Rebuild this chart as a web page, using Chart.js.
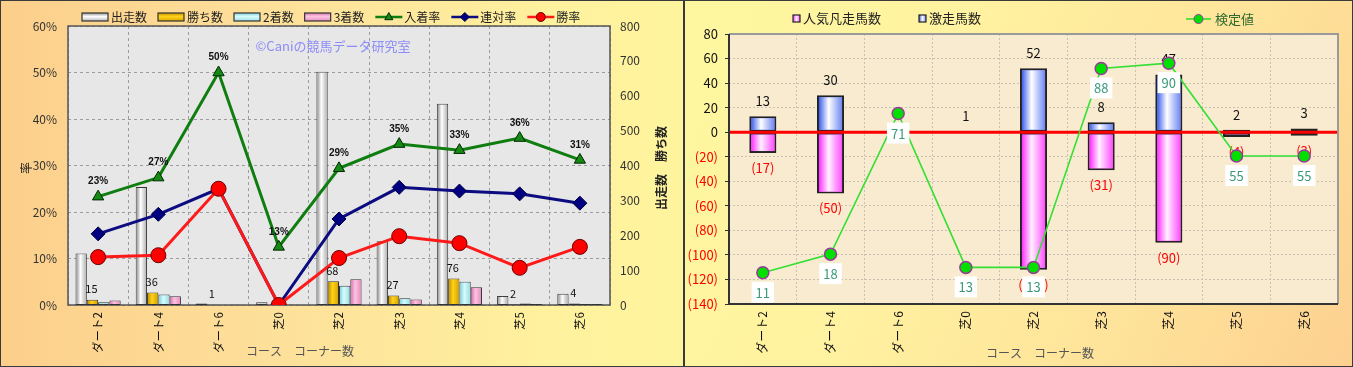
<!DOCTYPE html>
<html><head><meta charset="utf-8">
<script src="https://cdn.jsdelivr.net/npm/chart.js@4"></script>
<style>
html,body{margin:0;padding:0;width:1353px;height:367px;overflow:hidden;background:#fff;}
#pl{position:absolute;left:0;top:0;width:684px;height:367px;box-sizing:border-box;border:1px solid #3a3a3a;background:linear-gradient(90deg,#fccf8b 0%,#fde09a 40%,#fff19e 80%,#fff49e 100%);}
#pr{position:absolute;left:683px;top:0;width:670px;height:367px;box-sizing:border-box;border:1px solid #3a3a3a;border-left:2px solid #3a3a3a;background:linear-gradient(115deg,#fff7a0 0%,#fff2a0 35%,#fee39a 70%,#fdd090 100%);}
canvas{position:absolute;top:0;}
#cl{left:0}
#cr{left:683px}
</style></head>
<body>
<div id="pl"></div><div id="pr"></div>
<canvas id="cl" width="683" height="367"></canvas>
<canvas id="cr" width="670" height="367"></canvas>
<script>
Chart.defaults.font.family = '"Noto Sans CJK JP","Noto Sans",sans-serif';
Chart.defaults.animation = false;

// ---------- data ----------
const categories = ['ダート2','ダート4','ダート6','芝0','芝2','芝3','芝4','芝5','芝6'];

// left chart
const leftSeriesNames = ['出走数','勝ち数','2着数','3着数','入着率','連対率','勝率'];
const runCounts    = [148, 338, 4, 8, 669, 183, 577, 26, 32];
const winCounts    = [15, 36, 1, 0, 68, 27, 76, 2, 4];
const secondCounts = [8, 30, 0, 0, 55, 19, 67, 4, 3];
const thirdCounts  = [13, 25, 1, 1, 74, 16, 51, 3, 3];
const placeRates    = [23.3, 27.4, 50.0, 12.5, 29.4, 34.6, 33.3, 35.9, 31.2];
const quinellaRates = [15.3, 19.5, 25.0, 0.0, 18.5, 25.3, 24.5, 23.9, 21.9];
const winRates      = [10.3, 10.7, 25.0, 0.0, 10.1, 14.8, 13.3, 8.0, 12.5];
const leftAxisTitle = '率';
const rightAxisTitle = '出走数　勝ち数';
const xAxisTitle = 'コース　コーナー数';
const watermark = '©Caniの競馬データ研究室';

// right chart
const rightSeriesNames = ['人気凡走馬数','激走馬数','検定値'];
const hotFlopCounts  = [-17, -50, 0, 0, -112, -31, -90, -4, -3];
const longshotCounts = [13, 30, 0, 1, 52, 8, 47, 2, 3];
const testValues     = [11, 18, 71, 13, 13, 88, 90, 55, 55];

// ---------- helpers ----------
function cylinder(ctx, el, stops, bw){
  const p = el.getProps(['x','y','base','width'], true);
  const l = p.x - p.width/2 + bw, r = p.x + p.width/2 - bw;
  const t = Math.min(p.y,p.base) + bw, b = Math.max(p.y,p.base) - bw;
  if (b - t < 0.8 || r - l < 1) return;
  const g = ctx.createLinearGradient(l,0,r,0);
  g.addColorStop(0, stops[0]); g.addColorStop(0.42, stops[1]); g.addColorStop(1, stops[2]);
  ctx.fillStyle = g; ctx.fillRect(l,t,r-l,b-t);
}
function marker(ctx, style, x, y, r, fill, stroke){
  ctx.save(); ctx.fillStyle = fill; ctx.strokeStyle = stroke; ctx.lineWidth = 1;
  ctx.beginPath();
  if (style === 'triangle'){ ctx.moveTo(x, y-r); ctx.lineTo(x+r*0.9, y+r*0.6); ctx.lineTo(x-r*0.9, y+r*0.6); ctx.closePath(); }
  else if (style === 'rectRot'){ ctx.moveTo(x, y-r); ctx.lineTo(x+r, y); ctx.lineTo(x, y+r); ctx.lineTo(x-r, y); ctx.closePath(); }
  else { ctx.arc(x, y, r, 0, Math.PI*2); }
  ctx.fill(); ctx.stroke(); ctx.restore();
}
function rotText(ctx, text, x, y, font, color){
  ctx.save(); ctx.translate(x,y); ctx.rotate(-Math.PI/2);
  ctx.font = font; ctx.fillStyle = color; ctx.textAlign='center'; ctx.textBaseline='middle';
  ctx.fillText(text,0,0); ctx.restore();
}

// ---------- left chart ----------
const leftPlugin = {
  id:'leftExtras',
  beforeDraw(chart){
    const {ctx, chartArea:a} = chart;
    ctx.save(); ctx.fillStyle = '#e7e7e7'; ctx.fillRect(a.left,a.top,a.right-a.left,a.bottom-a.top); ctx.restore();
  },
  beforeDatasetsDraw(chart){
    const {ctx, chartArea:a} = chart;
    ctx.save();
    ctx.strokeStyle = '#555'; ctx.lineWidth = 1.5; ctx.strokeRect(a.left,a.top,a.right-a.left,a.bottom-a.top);
    ctx.font = '13px "Noto Sans CJK JP"'; ctx.fillStyle = '#8c8cf8'; ctx.textAlign='center'; ctx.textBaseline='middle';
    ctx.fillText(watermark, 333, 46);
    ctx.restore();
  },
  afterDatasetDraw(chart, args){
    const ds = chart.data.datasets[args.index];
    if (ds.type !== 'bar') return;
    const ctx = chart.ctx; ctx.save();
    args.meta.data.forEach(el => cylinder(ctx, el, ds.grad, 1));
    ctx.restore();
  },
  afterDraw(chart){
    const ctx = chart.ctx; ctx.save();
    // win count labels
    const wm = chart.getDatasetMeta(1);
    ctx.font = '11px "Noto Sans CJK JP"'; ctx.fillStyle = '#111'; ctx.textAlign='center'; ctx.textBaseline='bottom';
    wm.data.forEach((el,i) => { const v = chart.data.datasets[1].data[i]; if (v) ctx.fillText(String(v), el.x-1, el.y-5); });
    // place rate labels
    const pm = chart.getDatasetMeta(4);
    ctx.font = 'bold 10px "Liberation Sans"'; ctx.textBaseline='middle';
    pm.data.forEach((el,i) => ctx.fillText(Math.round(chart.data.datasets[4].data[i])+'%', el.x, el.y-15));
    // legend
    let x = 82; const y = 17;
    ctx.font = '12px "Noto Sans CJK JP"'; ctx.textAlign='left'; ctx.textBaseline='middle';
    chart.data.datasets.forEach(ds => {
      if (ds.type === 'bar'){
        const g = ctx.createLinearGradient(0,y-4,0,y+4);
        g.addColorStop(0, ds.grad[0]); g.addColorStop(0.45, ds.grad[1]); g.addColorStop(1, ds.grad[2]);
        ctx.fillStyle = g; ctx.fillRect(x, y-4, 26, 8);
        ctx.strokeStyle = '#333'; ctx.lineWidth = 1.2; ctx.strokeRect(x, y-4, 26, 8);
      } else {
        ctx.strokeStyle = ds.borderColor; ctx.lineWidth = 2.5;
        ctx.beginPath(); ctx.moveTo(x, y); ctx.lineTo(x+27, y); ctx.stroke();
        marker(ctx, ds.pointStyle, x+13.5, y, 4.5, ds.pointBackgroundColor, ds.pointBorderColor);
      }
      x += 29;
      ctx.fillStyle = '#222'; ctx.fillText(ds.label, x, y);
      x += ctx.measureText(ds.label).width + 11;
    });
    // axis titles
    rotText(ctx, leftAxisTitle, 26, 168, '12px "Noto Sans CJK JP"', '#222');
    rotText(ctx, rightAxisTitle, 661, 168, 'bold 12px "Noto Sans CJK JP"', '#222');
    ctx.font = '12px "Noto Sans CJK JP"'; ctx.fillStyle = '#555'; ctx.textAlign='center';
    ctx.fillText(xAxisTitle, 300, 351);
    ctx.restore();
  }
};

new Chart(document.getElementById('cl'), {
  data: {
    labels: categories,
    datasets: [
      {type:'bar', label:leftSeriesNames[0], data:runCounts, yAxisID:'y1', backgroundColor:'#d8d8d8', borderColor:'#333', borderWidth:1, borderSkipped:false, grad:['#9a9a9a','#ffffff','#b8b8b8'], order:3, categoryPercentage:0.75, barPercentage:1},
      {type:'bar', label:leftSeriesNames[1], data:winCounts, yAxisID:'y1', backgroundColor:'#f0c000', borderColor:'#333', borderWidth:1, borderSkipped:false, grad:['#c89600','#ffd21a','#d9a800'], order:3, categoryPercentage:0.75, barPercentage:1},
      {type:'bar', label:leftSeriesNames[2], data:secondCounts, yAxisID:'y1', backgroundColor:'#b0ecf2', borderColor:'#333', borderWidth:1, borderSkipped:false, grad:['#88d4dc','#d8fbfd','#9ee0e8'], order:3, categoryPercentage:0.75, barPercentage:1},
      {type:'bar', label:leftSeriesNames[3], data:thirdCounts, yAxisID:'y1', backgroundColor:'#f0a0cc', borderColor:'#333', borderWidth:1, borderSkipped:false, grad:['#e07ab4','#fcc4e2','#e890c0'], order:3, categoryPercentage:0.75, barPercentage:1},
      {type:'line', label:leftSeriesNames[4], data:placeRates, yAxisID:'y', borderColor:'#0f7d0f', borderWidth:3, tension:0, pointStyle:'triangle', pointRadius:6.5, pointBackgroundColor:'#148a14', pointBorderColor:'#002800', pointBorderWidth:1, order:2},
      {type:'line', label:leftSeriesNames[5], data:quinellaRates, yAxisID:'y', borderColor:'#0c0c80', borderWidth:3, tension:0, pointStyle:'rectRot', pointRadius:7, pointBackgroundColor:'#000080', pointBorderColor:'#000040', pointBorderWidth:1, order:1},
      {type:'line', label:leftSeriesNames[6], data:winRates, yAxisID:'y', borderColor:'#ff1a1a', borderWidth:3, tension:0, pointStyle:'circle', pointRadius:7.5, pointBackgroundColor:'#ff0000', pointBorderColor:'#6a0000', pointBorderWidth:1, order:0}
    ]
  },
  options: {
    responsive:false, animation:false,
    layout:{padding:{top:26,left:0,right:0,bottom:0}},
    plugins:{legend:{display:false}, tooltip:{enabled:false}},
    scales:{
      x:{offset:true, afterFit:s=>{s.height=62;},
         grid:{offset:true, color:'#9c9c9c', drawTicks:false}, border:{display:false, dash:[3,3]},
         ticks:{autoSkip:false, minRotation:90, maxRotation:90, padding:7, color:'#111', font:{size:11.5}}},
      y:{position:'left', min:0, max:60, afterFit:s=>{s.width=68;},
         ticks:{stepSize:10, callback:v=>v+'%', padding:11, color:'#333', font:{size:12}},
         grid:{color:'#9c9c9c', drawTicks:false}, border:{display:false, dash:[3,3]}},
      y1:{position:'right', min:0, max:800, afterFit:s=>{s.width=73;},
         ticks:{stepSize:100, padding:10, color:'#333', font:{size:12}},
         grid:{display:false, drawTicks:false}, border:{display:false}}
    }
  },
  plugins:[leftPlugin]
});

// ---------- right chart ----------
const rightPlugin = {
  id:'rightExtras',
  beforeDraw(chart){
    const {ctx, chartArea:a} = chart;
    ctx.save(); ctx.fillStyle = '#f8ebcf'; ctx.fillRect(a.left,a.top,a.right-a.left,a.bottom-a.top); ctx.restore();
  },
  afterDatasetDraw(chart, args){
    const ds = chart.data.datasets[args.index];
    if (ds.type !== 'bar') return;
    const ctx = chart.ctx; ctx.save();
    args.meta.data.forEach(el => cylinder(ctx, el, ds.grad, 2));
    ctx.restore();
  },
  beforeDatasetDraw(chart, args){
    if (chart.data.datasets[args.index].type !== 'line') return;
    const {ctx, chartArea:a} = chart; ctx.save();
    // bar value labels
    ctx.font = '13px "Noto Sans CJK JP"'; ctx.textAlign='center'; ctx.textBaseline='middle';
    [0,1].forEach(di => {
      const meta = chart.getDatasetMeta(di);
      meta.data.forEach((el,i) => {
        const v = chart.data.datasets[di].data[i];
        if (!v) return;
        if (v > 0){ ctx.fillStyle = '#111'; ctx.fillText(String(v), el.x, el.y-15); }
        else { ctx.fillStyle = '#ff0000'; ctx.fillText('('+(-v)+')', el.x, el.y+15); }
      });
    });
    // zero line
    const y0 = chart.scales.y.getPixelForValue(0);
    ctx.strokeStyle = '#ff0000'; ctx.lineWidth = 3;
    ctx.beginPath(); ctx.moveTo(a.left, y0); ctx.lineTo(a.right, y0); ctx.stroke();
    ctx.restore();
  },
  afterDraw(chart){
    const {ctx, chartArea:a} = chart; ctx.save();
    // frame
    ctx.lineWidth = 2; ctx.strokeStyle = '#9a9a9a';
    ctx.beginPath(); ctx.moveTo(a.left, a.top); ctx.lineTo(a.right, a.top); ctx.lineTo(a.right, a.bottom); ctx.stroke();
    ctx.strokeStyle = '#333';
    ctx.beginPath(); ctx.moveTo(a.left, a.top); ctx.lineTo(a.left, a.bottom); ctx.lineTo(a.right, a.bottom); ctx.stroke();
    // test value labels
    const meta = chart.getDatasetMeta(2);
    ctx.font = '13px "Noto Sans CJK JP"'; ctx.textAlign='center'; ctx.textBaseline='middle';
    meta.data.forEach((el,i) => {
      const t = String(chart.data.datasets[2].data[i]);
      const w = ctx.measureText(t).width + 8;
      ctx.fillStyle = '#ffffff'; ctx.fillRect(el.x - w/2, el.y + 9, w, 21);
      ctx.fillStyle = '#3a9a78'; ctx.fillText(t, el.x, el.y + 20);
    });
    // legend
    const ds = chart.data.datasets;
    ctx.textAlign='left'; ctx.font = '13px "Noto Sans CJK JP"';
    const box = (x, d) => {
      const g = ctx.createLinearGradient(x,0,x+7,0);
      g.addColorStop(0, d.grad[0]); g.addColorStop(0.5, d.grad[1]); g.addColorStop(1, d.grad[2]);
      ctx.fillStyle = g; ctx.fillRect(x, 15, 7, 7);
      ctx.strokeStyle = '#222'; ctx.lineWidth = 1.2; ctx.strokeRect(x, 15, 7, 7);
    };
    box(110, ds[0]); ctx.fillStyle = '#222'; ctx.fillText(ds[0].label, 120, 18.5);
    box(236, ds[1]); ctx.fillStyle = '#222'; ctx.fillText(ds[1].label, 246, 18.5);
    ctx.strokeStyle = ds[2].borderColor; ctx.lineWidth = 1.6;
    ctx.beginPath(); ctx.moveTo(503, 19); ctx.lineTo(528, 19); ctx.stroke();
    marker(ctx, 'circle', 515.5, 19, 4.5, ds[2].pointBackgroundColor, ds[2].pointBorderColor);
    ctx.fillStyle = '#2e6a2e'; ctx.fillText(ds[2].label, 532, 19);
    // x title
    ctx.font = '12px "Noto Sans CJK JP"'; ctx.fillStyle = '#555'; ctx.textAlign='center';
    ctx.fillText(xAxisTitle, 357, 353);
    ctx.restore();
  }
};

new Chart(document.getElementById('cr'), {
  data: {
    labels: categories,
    datasets: [
      {type:'bar', label:rightSeriesNames[0], data:hotFlopCounts, yAxisID:'y', backgroundColor:'#ff40ff', borderColor:'#222', borderWidth:2, borderSkipped:false, grad:['#ff30ff','#fff0ff','#ff50ff'], order:2, categoryPercentage:0.4, barPercentage:1},
      {type:'bar', label:rightSeriesNames[1], data:longshotCounts, yAxisID:'y', backgroundColor:'#5070f0', borderColor:'#222', borderWidth:2, borderSkipped:false, grad:['#4060ec','#ffffff','#7088f2'], order:1, categoryPercentage:0.4, barPercentage:1},
      {type:'line', label:rightSeriesNames[2], data:testValues, yAxisID:'y2', borderColor:'#33e033', borderWidth:1.6, tension:0, pointStyle:'circle', pointRadius:6, pointBackgroundColor:'#00e000', pointBorderColor:'#9a3a9a', pointBorderWidth:1.5, order:0}
    ]
  },
  options: {
    responsive:false, animation:false,
    layout:{padding:{top:34,left:0,right:15,bottom:0}},
    plugins:{legend:{display:false}, tooltip:{enabled:false}},
    scales:{
      x:{stacked:true, offset:true, afterFit:s=>{s.height=63;},
         grid:{offset:true, color:'#c9c2b4', drawTicks:false}, border:{display:false, dash:[2,2]},
         ticks:{autoSkip:false, minRotation:90, maxRotation:90, padding:7, color:'#111', font:{size:12}}},
      y:{position:'left', min:-140, max:80, afterFit:s=>{s.width=46;},
         ticks:{stepSize:20, padding:7, font:{size:13},
                callback:v=> v<0 ? '('+(-v)+')' : String(v),
                color:c=> c.tick && c.tick.value<0 ? '#ff0000' : '#111'},
         grid:{color:'#c9c2b4', drawTicks:true, tickLength:4, tickColor:'#333'}, border:{display:false, dash:[2,2]}},
      y2:{display:false, min:-0.8, max:101}
    }
  },
  plugins:[rightPlugin]
});
</script>
</body></html>
